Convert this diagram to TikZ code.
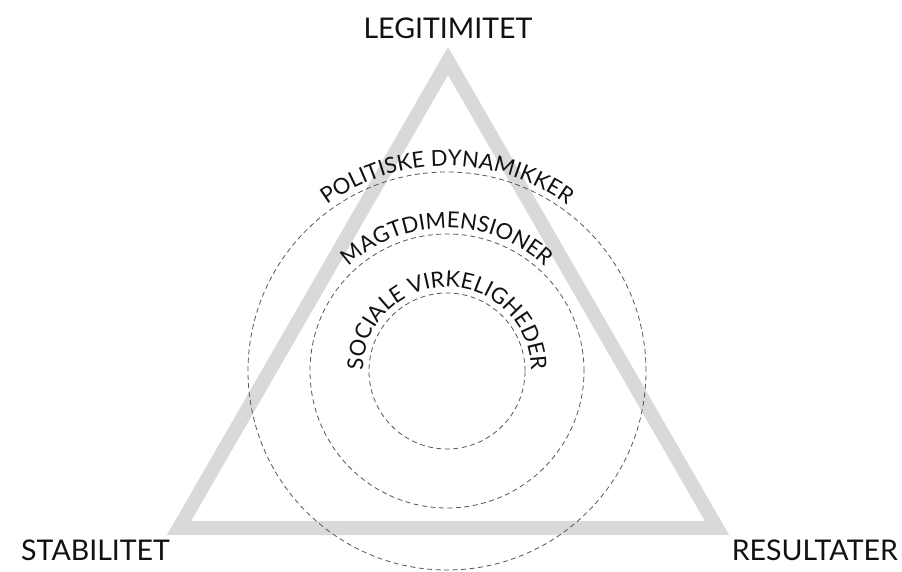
\documentclass[tikz,border=0pt]{standalone}
\usepackage{fontspec}
\setmainfont{Lato}
\usetikzlibrary{decorations.text,calc}

\definecolor{triangray}{HTML}{D9D9D9}
\definecolor{ringgray}{HTML}{555555}
\definecolor{inkblack}{HTML}{111111}

\newcommand{\cornerfont}{\fontsize{28.5}{28.5}\selectfont}
\newcommand{\ringfont}{\fontsize{22}{22}\selectfont}

\tikzset{
  frame/.style={draw=triangray, line width=14pt, line join=miter},
  ring/.style={draw=ringgray, line width=0.8pt, dash pattern=on 5pt off 3.5pt},
  corner/.style={text=inkblack, inner sep=0pt, font=\cornerfont},
  ringlabel/.style={decorate, decoration={text along path, text align=center,
      text color=inkblack, text={|\ringfont|#1}}}
}

\begin{document}
\begin{tikzpicture}[x=1pt, y=1pt]
  \useasboundingbox (0,0) rectangle (902,571);

  % triangle of the three corner concepts
  \coordinate (top) at (448,510);
  \coordinate (bl) at (179,43);
  \coordinate (br) at (717,43);
  \draw[frame] (top) -- (br) -- (bl) -- cycle;

  % nested dashed rings
  \coordinate (c) at (447,200);
  \draw[ring] (c) circle [radius=199pt];
  \draw[ring] (c) circle [radius=137pt];
  \draw[ring] (c) circle [radius=78pt];

  % ring captions set along arcs above each ring
  \path[ringlabel={POLITISKE DYNAMIKKER}] ($(c)+(180:205pt)$) arc [start angle=180, end angle=0, radius=205pt];
  \path[ringlabel={MAGTDIMENSIONER}] ($(c)+(180:143pt)$) arc [start angle=180, end angle=0, radius=143pt];
  \path[ringlabel={SOCIALE VIRKELIGHEDER}] ($(c)+(180:84pt)$) arc [start angle=180, end angle=0, radius=84pt];

  % corner labels
  \node[corner, anchor=base] (legit) at (448,532) {LEGITIMITET};
  \node[corner, anchor=base west] (stab) at (21,11) {STABILITET};
  \node[corner, anchor=base east] (res) at (898,11) {RESULTATER};
\end{tikzpicture}
\end{document}
